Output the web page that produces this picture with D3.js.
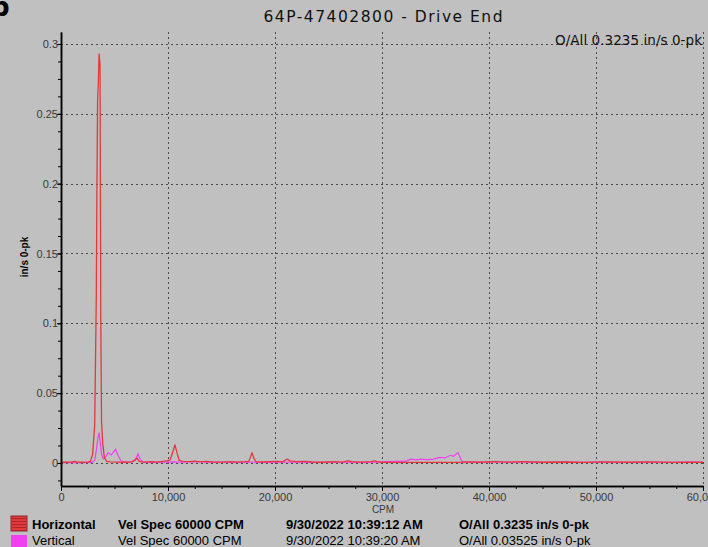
<!DOCTYPE html>
<html>
<head>
<meta charset="utf-8">
<script src="https://cdn.jsdelivr.net/npm/d3@7"></script>
<style>
	body { margin:0; background:#c0c0c0; }
	svg { display:block; font-family:"Liberation Sans", Arial, sans-serif; }
	.grid line { stroke:#4a4a4a; stroke-width:1; stroke-dasharray:2,3; }
	.axis path, .axis line { stroke:#000; }
	.axis text { font-size:11px; fill:#3a3a3a; font-family:"Liberation Sans", Arial, sans-serif; }
</style>
</head>
<body>
<svg width="708" height="547"></svg>
<script>
(function() {

	//DATA
	var title = '64P-47402800 - Drive End'
	var overallLabel = 'O/All 0.3235 in/s 0-pk'
	var xTicks = [0, 10000, 20000, 30000, 40000, 50000, 60000]
	var yTicks = [0, 0.05, 0.1, 0.15, 0.2, 0.25, 0.3]

	// Horizontal spectrum (CPM, in/s 0-pk)
	var hFreq = [0,300,700,1000,1300,1500,2000,2500,2750,2950,3150,3300,3360,3420,3480,3560,3650,3720,3790,3900,4050,4250,4600,5200,6000,6600,6900,7100,7300,7700,8500,9000,9500,9900,10200,10450,10650,10850,11050,11400,12000,12500,13000,13600,14200,15000,15800,16500,17200,17550,17700,17850,18000,18200,18800,19500,20200,20700,21150,21400,22000,22800,23500,24500,25500,26300,26800,27200,28000,29000,29300,29800,31000,33000,35000,37000,38000,39000,40500,41500,43000,45000,47000,49000,51000,53000,55000,57000,60000]
	var hAmp = [0.0004,0.0006,0.0005,0.0008,0.0012,0.0006,0.0005,0.0006,0.0012,0.006,0.027,0.12,0.2,0.259,0.27,0.293,0.285,0.1,0.029,0.014,0.004,0.0012,0.0008,0.0006,0.0005,0.0008,0.0018,0.0035,0.0012,0.0006,0.0009,0.0006,0.0012,0.0015,0.0022,0.008,0.013,0.007,0.0018,0.0012,0.0009,0.0013,0.0008,0.0011,0.0007,0.0006,0.0009,0.0006,0.0009,0.0012,0.004,0.0074,0.004,0.001,0.0007,0.001,0.0012,0.0008,0.0028,0.0015,0.0009,0.0012,0.0007,0.0005,0.0009,0.0006,0.0015,0.0009,0.0006,0.0009,0.0015,0.0005,0.0004,0.0004,0.0004,0.0004,0.0008,0.0005,0.0009,0.0006,0.0009,0.0005,0.0007,0.0004,0.0008,0.0005,0.0008,0.0004,0.0005]

	// Vertical spectrum
	var vFreq = [0,1000,2000,2900,3150,3300,3450,3560,3680,3800,3950,4150,4400,4700,5100,5350,5600,6000,6600,6950,7200,7400,7700,8500,9500,10500,11500,12500,13500,14500,16000,17500,19000,20500,22000,24000,26000,28000,29500,30500,31500,32300,32700,33200,33600,34200,34800,35400,35900,36400,36700,37100,37350,37550,38500,39500,40500,42000,43500,45000,47000,49000,50500,52000,54000,55500,57000,58800,60000]
	var vAmp = [0.0002,0.0003,0.0002,0.0004,0.002,0.009,0.018,0.0217,0.014,0.006,0.003,0.004,0.0074,0.0057,0.0098,0.005,0.0015,0.0006,0.0008,0.0025,0.0065,0.0025,0.0006,0.0004,0.0006,0.0008,0.0005,0.0009,0.0005,0.0007,0.0004,0.0006,0.0004,0.0006,0.0005,0.0004,0.0005,0.0004,0.0006,0.0009,0.0012,0.0015,0.0027,0.0022,0.0027,0.0024,0.0028,0.004,0.0036,0.0055,0.0048,0.0074,0.003,0.0006,0.0008,0.0005,0.0009,0.0005,0.0008,0.0004,0.0006,0.0004,0.0008,0.0005,0.0004,0.0007,0.0004,0.0008,0.0004]

	var legendRows = [
		{ name:'Horizontal', spec:'Vel Spec 60000 CPM', date:'9/30/2022 10:39:12 AM', overall:'O/All 0.3235 in/s 0-pk' },
		{ name:'Vertical', spec:'Vel Spec 60000 CPM', date:'9/30/2022 10:39:20 AM', overall:'O/All 0.03525 in/s 0-pk' }
	]

	//VARS
	var colorH = '#e4383c'
	var colorV = '#f040f0'
	var margin = { left:61, right:5, top:32, bottom:61 }

	var svg = d3.select('svg')

	var x = d3.scaleLinear().domain([0, 60000]).range([margin.left, 703])
	var y = d3.scaleLinear().domain([-0.0165, 0.3086]).range([486, margin.top])

	// panel letter, cut by the edge
	svg.append('text')
		.attr('x', -9).attr('y', 16)
		.style('font-size', '26px').style('font-weight', 'bold')
		.style('font-family', 'DejaVu Sans, sans-serif')
		.text('b')

	svg.append('text')
		.attr('x', 383).attr('y', 22)
		.attr('text-anchor', 'middle')
		.attr('textLength', 239).attr('lengthAdjust', 'spacing')
		.style('font-size', '15.5px').style('fill', '#111')
		.style('font-family', 'DejaVu Sans, sans-serif')
		.text(title)

	// grid
	var grid = svg.append('g').attr('class', 'grid')
	grid.selectAll('.gy').data(yTicks).enter().append('line')
		.attr('x1', x(0)).attr('x2', x(60000))
		.attr('y1', function(d) { return Math.round(y(d)) + 0.5 })
		.attr('y2', function(d) { return Math.round(y(d)) + 0.5 })
	grid.selectAll('.gx').data(xTicks.slice(1)).enter().append('line')
		.attr('x1', function(d) { return Math.round(x(d)) + 0.5 })
		.attr('x2', function(d) { return Math.round(x(d)) + 0.5 })
		.attr('y1', y.range()[1]).attr('y2', y.range()[0])

	svg.append('text')
		.attr('x', 702).attr('y', 45)
		.attr('text-anchor', 'end')
		.attr('textLength', 147).attr('lengthAdjust', 'spacing')
		.style('font-size', '13.5px').style('fill', '#111')
		.style('font-family', 'DejaVu Sans, sans-serif')
		.text(overallLabel)

	// lines
	var line = d3.line()
		.x(function(d) { return x(d[0]) })
		.y(function(d) { return y(d[1]) })

	var vData = d3.zip(vFreq, vAmp)
	var hData = d3.zip(hFreq, hAmp)

	svg.append('path').datum(vData)
		.attr('d', line).attr('fill', 'none')
		.attr('stroke', colorV).attr('stroke-width', 1.2)
	svg.append('path').datum(hData)
		.attr('d', line).attr('fill', 'none')
		.attr('stroke', colorH).attr('stroke-width', 1.3)
		.attr('stroke-linejoin', 'round')

	// axes
	var minorX = d3.range(0, 60001, 2500)
	var minorY = d3.range(-0.0125, 0.3001, 0.0125)

	svg.append('g').attr('class', 'axis')
		.attr('transform', 'translate(0,486)')
		.call(d3.axisBottom(x).tickValues(minorX).tickSize(3).tickFormat('').tickSizeOuter(0))
	svg.append('g').attr('class', 'axis')
		.attr('transform', 'translate(0,486)')
		.call(d3.axisBottom(x).tickValues(xTicks).tickSize(5).tickSizeOuter(0).tickFormat(d3.format(',')))
		.selectAll('text').attr('dy', '0.6em')

	svg.append('g').attr('class', 'axis')
		.attr('transform', 'translate(' + margin.left + ',0)')
		.call(d3.axisLeft(y).tickValues(minorY).tickSize(3).tickFormat('').tickSizeOuter(0))
	svg.append('g').attr('class', 'axis')
		.attr('transform', 'translate(' + margin.left + ',0)')
		.call(d3.axisLeft(y).tickValues(yTicks).tickSize(4).tickSizeOuter(0).tickFormat(function(d) { return d3.format('')(+d.toFixed(2)) }))
		.selectAll('text').attr('x', -3)

	svg.selectAll('.axis path').attr('stroke-width', 1.5)

	svg.append('text')
		.attr('x', 383).attr('y', 513)
		.attr('text-anchor', 'middle')
		.style('font-size', '10px').style('fill', '#3a3a3a')
		.text('CPM')

	svg.append('text')
		.attr('transform', 'translate(28,257)rotate(-90)')
		.attr('text-anchor', 'middle')
		.style('font-size', '10px').style('font-weight', 'bold')
		.text('in/s 0-pk')

	// legend
	var legend = svg.append('g')
	var rows = legend.selectAll('.row').data(legendRows).enter().append('g')
		.attr('transform', function(d, i) { return 'translate(0,' + (529 + i * 16) + ')' })
		.style('font-size', '13px')
		.style('font-weight', function(d, i) { return i === 0 ? 'bold' : 'normal' })
		.style('fill', '#000')

	rows.append('rect')
		.attr('x', 11).attr('y', function(d, i) { return i === 0 ? -13 : -10 })
		.attr('width', 16).attr('height', function(d, i) { return i === 0 ? 15 : 13 })
		.attr('fill', function(d, i) { return i === 0 ? colorH : colorV })
		.attr('stroke', function(d, i) { return i === 0 ? '#8a2a2a' : 'none' })
	legend.selectAll('.hatch').data(d3.range(0, 5)).enter().append('line')
		.attr('x1', 12).attr('x2', 26)
		.attr('y1', function(d) { return 518.5 + d * 3 })
		.attr('y2', function(d) { return 518.5 + d * 3 })
		.attr('stroke', '#a52a2a').attr('stroke-width', 1)

	rows.append('text').attr('x', 32).text(function(d) { return d.name })
	rows.append('text').attr('x', 118).text(function(d) { return d.spec })
	rows.append('text').attr('x', 286).text(function(d) { return d.date })
	rows.append('text').attr('x', 459).text(function(d) { return d.overall })

})()
</script>
</body>
</html>
